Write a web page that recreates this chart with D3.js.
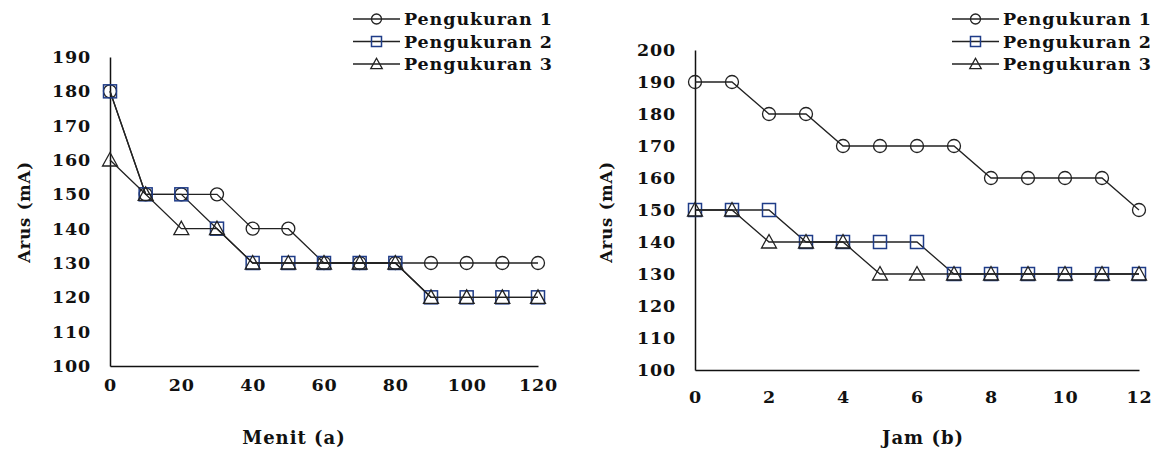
<!DOCTYPE html>
<html>
<head>
<meta charset="utf-8">
<script src="https://cdn.jsdelivr.net/npm/d3@7"></script>
<style>
  body { margin: 0; background: #fff; }
  svg text { font-family: "DejaVu Serif", serif; fill: #111; }
</style>
</head>
<body>
<svg id="svg" width="1165" height="457"></svg>
<script>
// data (a) - minutes
const menit = [0, 10, 20, 30, 40, 50, 60, 70, 80, 90, 100, 110, 120];
const menitP1 = [180, 150, 150, 150, 140, 140, 130, 130, 130, 130, 130, 130, 130];
const menitP2 = [180, 150, 150, 140, 130, 130, 130, 130, 130, 120, 120, 120, 120];
const menitP3 = [160, 150, 140, 140, 130, 130, 130, 130, 130, 120, 120, 120, 120];

// data (b) - hours
const jam = [0, 1, 2, 3, 4, 5, 6, 7, 8, 9, 10, 11, 12];
const jamP1 = [190, 190, 180, 180, 170, 170, 170, 170, 160, 160, 160, 160, 150];
const jamP2 = [150, 150, 150, 140, 140, 140, 140, 130, 130, 130, 130, 130, 130];
const jamP3 = [150, 150, 140, 140, 140, 130, 130, 130, 130, 130, 130, 130, 130];

const seriesNames = ['Pengukuran 1', 'Pengukuran 2', 'Pengukuran 3'];
const markers = ['circle', 'square', 'triangle'];
const markerColors = ['#222', '#1f3c88', '#222'];

const menitTicksX = [0, 20, 40, 60, 80, 100, 120];
const menitTicksY = [100, 110, 120, 130, 140, 150, 160, 170, 180, 190];
const jamTicksX = [0, 2, 4, 6, 8, 10, 12];
const jamTicksY = [100, 110, 120, 130, 140, 150, 160, 170, 180, 190, 200];

const svg = d3.select('#svg');

// s = half size of the marker
const drawMarker = (g, type, x, y, color, s) => {
  if (type === 'circle') {
    g.append('circle').attr('cx', x).attr('cy', y).attr('r', s)
      .attr('fill', 'none').attr('stroke', color).attr('stroke-width', 1.3);
  } else if (type === 'square') {
    g.append('rect').attr('x', x - s).attr('y', y - s)
      .attr('width', 2 * s).attr('height', 2 * s)
      .attr('fill', 'none').attr('stroke', color).attr('stroke-width', 1.5);
  } else {
    const h = s * 1.15;
    g.append('path')
      .attr('d', `M${x},${y - h}L${x + h},${y + s * 0.92}L${x - h},${y + s * 0.92}Z`)
      .attr('fill', 'none').attr('stroke', color).attr('stroke-width', 1.3);
  }
};

const drawChart = (cfg) => {
  const x = d3.scaleLinear().domain(cfg.xDomain).range(cfg.xRange);
  const y = d3.scaleLinear().domain(cfg.yDomain).range(cfg.yRange);
  const g = svg.append('g');

  // axes
  const xAxis = g.append('g')
    .attr('transform', `translate(0,${cfg.yRange[0]})`)
    .call(d3.axisBottom(x).tickValues(cfg.xTicks).tickSize(0).tickPadding(cfg.xPad).tickSizeOuter(0));
  const yAxis = g.append('g')
    .attr('transform', `translate(${cfg.xRange[0]},0)`)
    .call(d3.axisLeft(y).tickValues(cfg.yTicks).tickSize(0).tickPadding(cfg.yPad).tickSizeOuter(0));
  [xAxis, yAxis].forEach(a => {
    a.select('.domain').attr('stroke', '#111').attr('stroke-width', 1.5);
    a.selectAll('text').attr('font-family', '"DejaVu Serif", serif')
      .attr('font-size', 17.5).attr('font-weight', 'bold').attr('fill', '#111')
      .attr('letter-spacing', 0.8);
  });

  // series
  const line = d3.line().x(d => x(d[0])).y(d => y(d[1]));
  cfg.series.forEach((vals, i) => {
    const pts = cfg.xs.map((v, j) => [v, vals[j]]);
    g.append('path').attr('d', line(pts))
      .attr('fill', 'none').attr('stroke', '#222').attr('stroke-width', 1.3);
    pts.forEach(p => drawMarker(g, markers[i], x(p[0]), y(p[1]), markerColors[i], 6.5));
  });

  // axis titles
  g.append('text')
    .attr('transform', `translate(${cfg.yTitleX},${cfg.yTitleY}) rotate(-90)`)
    .attr('text-anchor', 'middle').attr('font-size', 16.5).attr('font-weight', 'bold')
    .attr('letter-spacing', 0.8)
    .text('Arus (mA)');
  g.append('text')
    .attr('x', cfg.xTitleX).attr('y', cfg.xTitleY)
    .attr('text-anchor', 'middle').attr('font-size', 18).attr('font-weight', 'bold')
    .attr('letter-spacing', 1)
    .text(cfg.xTitle);

  // legend
  seriesNames.forEach((name, i) => {
    const ly = cfg.legY + i * 22.5;
    const lg = g.append('g');
    lg.append('line').attr('x1', cfg.legX).attr('x2', cfg.legX + 47)
      .attr('y1', ly).attr('y2', ly).attr('stroke', '#222').attr('stroke-width', 1.3);
    drawMarker(lg, markers[i], cfg.legX + 23.5, ly, markerColors[i], 5);
    lg.append('text').attr('x', cfg.legX + 51).attr('y', ly).attr('dy', '0.35em')
      .attr('font-size', 17.5).attr('font-weight', 'bold').attr('letter-spacing', 0.9)
      .text(name);
  });
};

drawChart({
  xs: menit, series: [menitP1, menitP2, menitP3],
  xDomain: [0, 120], xRange: [110, 538],
  yDomain: [100, 190], yRange: [366, 57],
  xTicks: menitTicksX, yTicks: menitTicksY,
  xPad: 13, yPad: 19,
  yTitleX: 30, yTitleY: 212, xTitleX: 294, xTitleY: 444, xTitle: 'Menit (a)',
  legX: 353, legY: 19
});

drawChart({
  xs: jam, series: [jamP1, jamP2, jamP3],
  xDomain: [0, 12], xRange: [695, 1139],
  yDomain: [100, 200], yRange: [370, 50],
  xTicks: jamTicksX, yTicks: jamTicksY,
  xPad: 21, yPad: 19,
  yTitleX: 612, yTitleY: 212, xTitleX: 923, xTitleY: 444, xTitle: 'Jam (b)',
  legX: 952, legY: 19
});
</script>
</body>
</html>
